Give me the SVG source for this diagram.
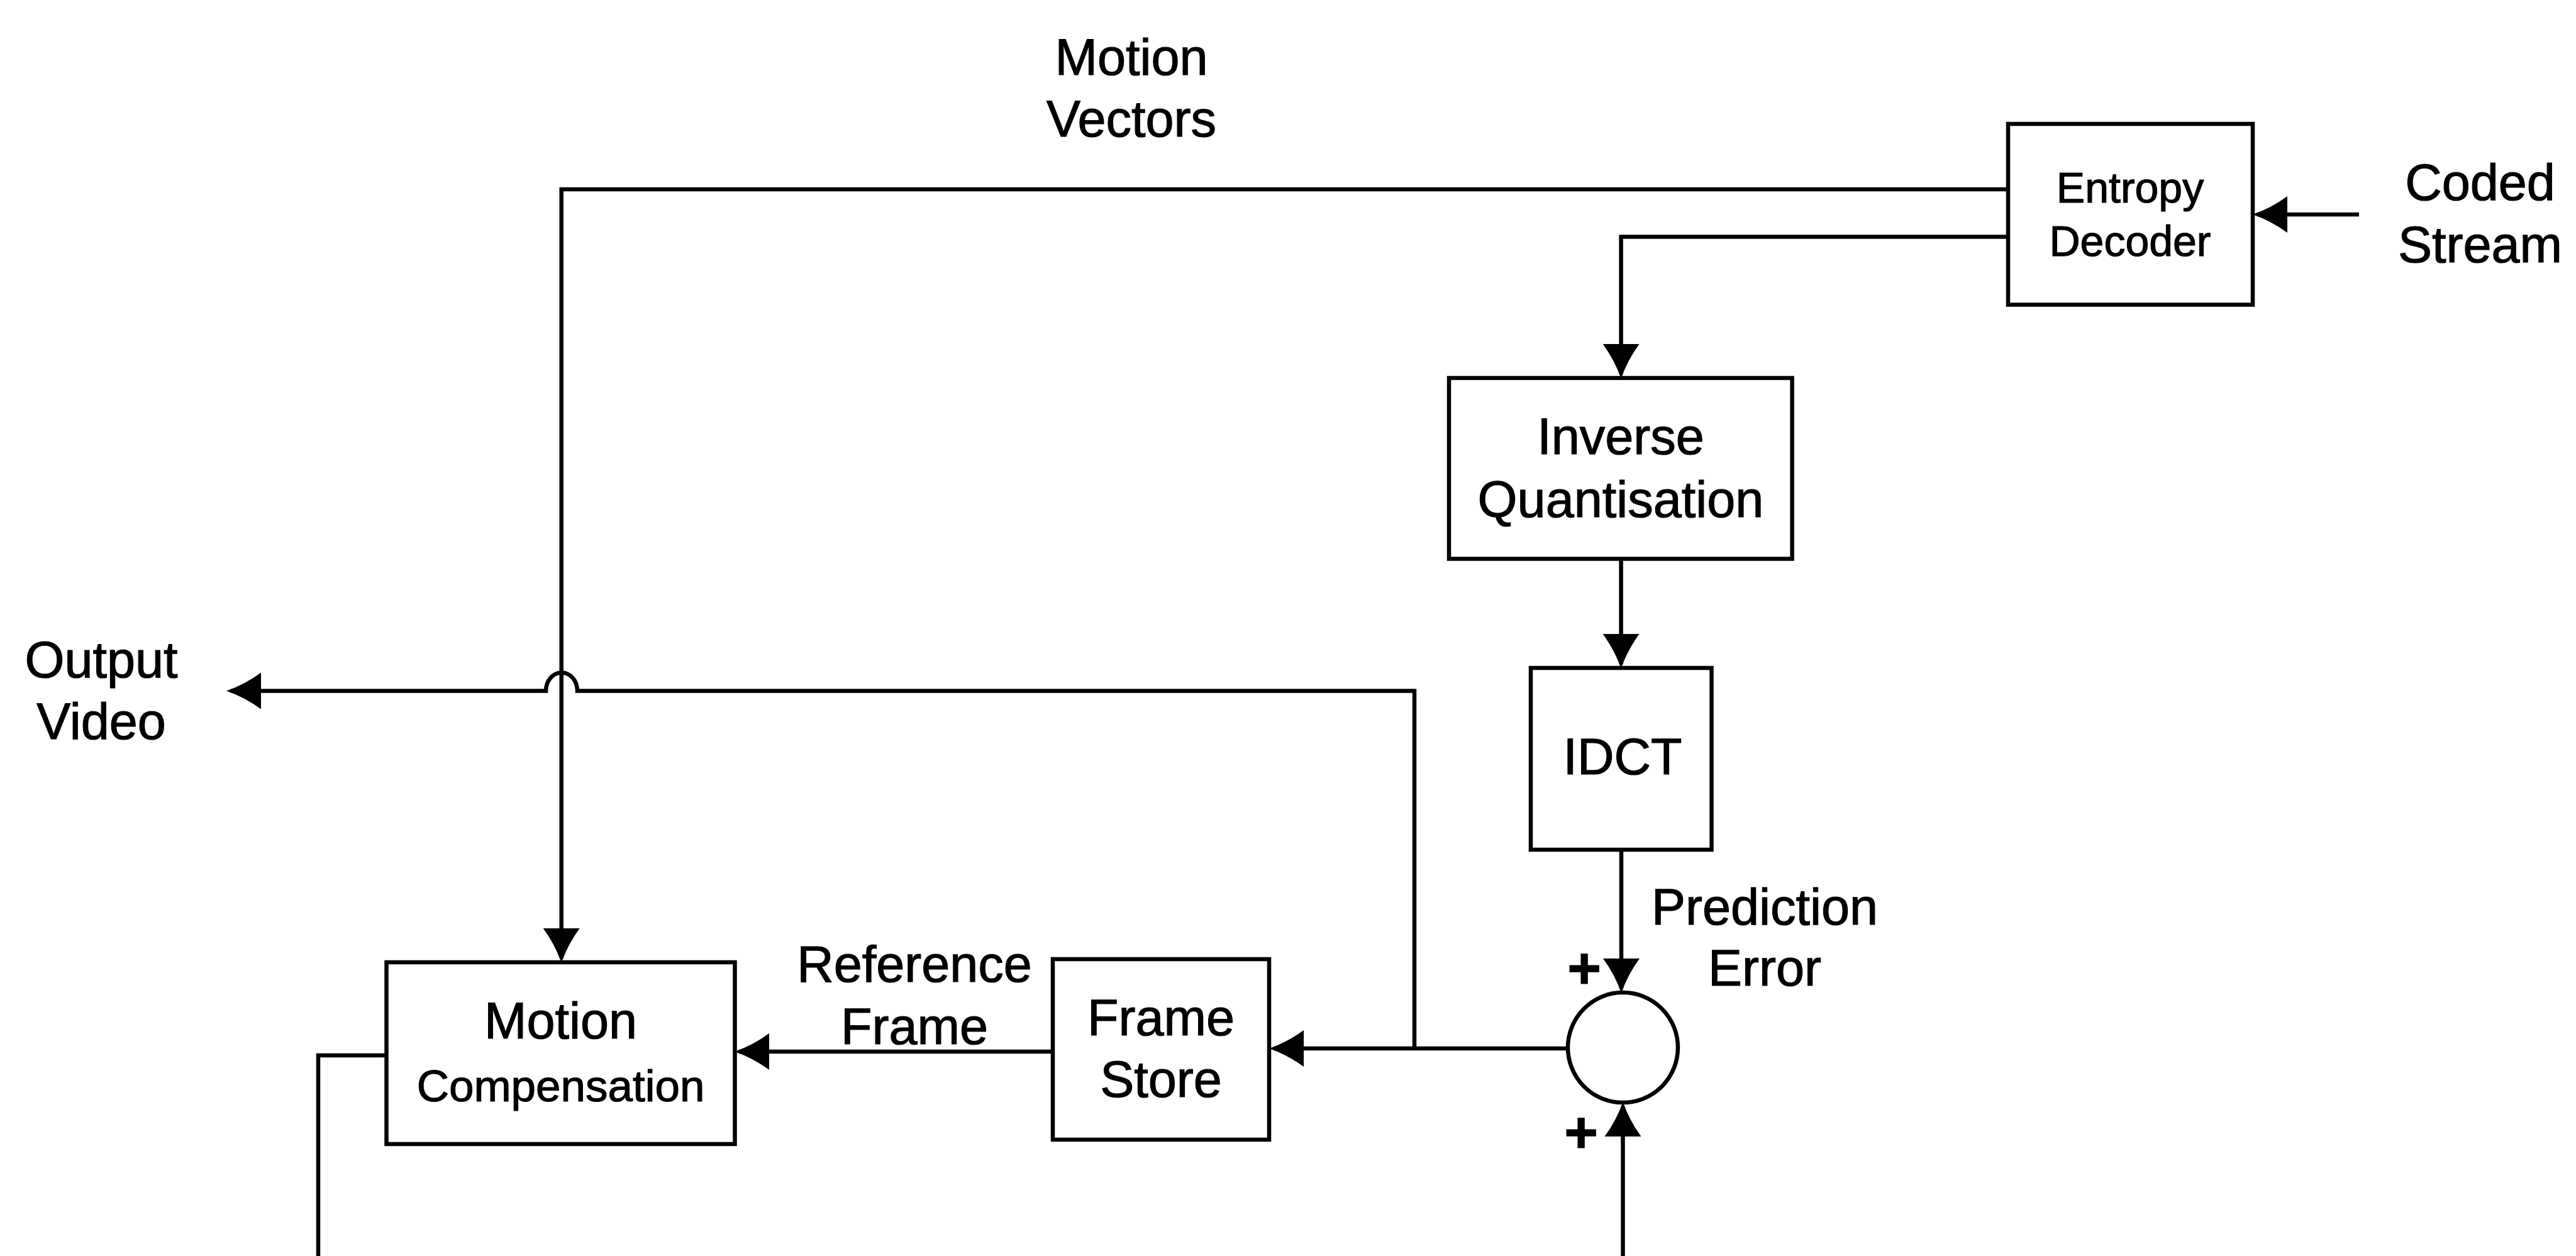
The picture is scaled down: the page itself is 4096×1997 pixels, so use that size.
<svg xmlns="http://www.w3.org/2000/svg" width="4096" height="1997" viewBox="0 0 4096 1997">
  <style>
    .box { fill: #ffffff; stroke: #000000; stroke-width: 6.5; }
    .wire { fill: none; stroke: #000000; stroke-width: 6.5; }
    .arrow { marker-end: url(#head); }
    text { font-family: "Liberation Sans", Arial, sans-serif; fill: #000000; stroke: #000000; stroke-width: 1.2; text-anchor: middle; }
    .lbl { font-size: 81px; }
    .small { font-size: 68px; }
    .sign { font-size: 92px; font-weight: bold; }
  </style>
  <defs>
    <marker id="head" markerUnits="userSpaceOnUse" markerWidth="62" markerHeight="64" viewBox="0 0 62 64" refX="48" refY="32" orient="auto">
      <path d="M0,3 Q26,22 55,32 Q26,42 0,61 Z" fill="#000000"/>
    </marker>
  </defs>

  <rect width="4096" height="1997" fill="#ffffff"/>

  <!-- connectors -->
  <g id="connectors">
    <!-- coded stream into entropy decoder -->
    <path class="wire arrow" d="M3751,341 H3589"/>
    <!-- motion vectors to motion compensation -->
    <path class="wire arrow" d="M3193,301 H892.7 V1524"/>
    <!-- coefficients to inverse quantisation -->
    <path class="wire arrow" d="M3193,376.4 H2577.6 V595"/>
    <!-- inverse quantisation to IDCT -->
    <path class="wire arrow" d="M2577.6,888.5 V1056"/>
    <!-- IDCT to adder -->
    <path class="wire arrow" d="M2578,1351 V1572"/>
    <!-- prediction into adder from below -->
    <path class="wire arrow" d="M2580.5,1997 V1759"/>
    <!-- adder output to frame store -->
    <path class="wire arrow" d="M2493,1667 H2025"/>
    <!-- reconstructed frame to output video, hopping over the motion vector line -->
    <path class="wire arrow" d="M2249,1667 V1098.4 H918 A25,29 0 0 0 868,1098.4 H367"/>
    <!-- frame store to motion compensation -->
    <path class="wire arrow" d="M1674,1672 H1175"/>
    <!-- motion compensation output to prediction path -->
    <path class="wire" d="M614.5,1678 H506 V1997"/>
  </g>

  <!-- nodes -->
  <g id="entropy-decoder">
    <rect class="box" x="3193" y="197" width="389" height="287.5"/>
    <text class="small" x="3387" y="322">Entropy</text>
    <text class="small" x="3387" y="406.5">Decoder</text>
  </g>

  <g id="inverse-quantisation">
    <rect class="box" x="2304" y="601" width="545.6" height="287.5"/>
    <text class="lbl" x="2577" y="722">Inverse</text>
    <text class="lbl" x="2577" y="821.7">Quantisation</text>
  </g>

  <g id="idct">
    <rect class="box" x="2434" y="1062" width="287.5" height="289"/>
    <text class="lbl" x="2580" y="1231">IDCT</text>
  </g>

  <g id="adder">
    <circle class="box" cx="2580.5" cy="1665.6" r="87.5"/>
    <text class="sign" x="2519" y="1571">+</text>
    <text class="sign" x="2514" y="1832">+</text>
  </g>

  <g id="frame-store">
    <rect class="box" x="1674" y="1525" width="344" height="287"/>
    <text class="lbl" x="1846" y="1645.5">Frame</text>
    <text class="lbl" x="1846" y="1743.7">Store</text>
  </g>

  <g id="motion-compensation">
    <rect class="box" x="614.5" y="1530" width="554" height="289"/>
    <text class="lbl" x="891.6" y="1650.5">Motion</text>
    <text style="font-size:71px" x="891.6" y="1751">Compensation</text>
  </g>

  <!-- free labels -->
  <g id="labels">
    <text class="lbl" x="1799" y="119">Motion</text>
    <text class="lbl" x="1799" y="216.5">Vectors</text>
    <text class="lbl" x="3943.5" y="317.6">Coded</text>
    <text class="lbl" x="3943.5" y="416.6">Stream</text>
    <text class="lbl" x="2806" y="1470">Prediction</text>
    <text class="lbl" x="2806" y="1566.6">Error</text>
    <text class="lbl" x="1454" y="1561">Reference</text>
    <text class="lbl" x="1454" y="1660">Frame</text>
    <text class="lbl" x="161" y="1077">Output</text>
    <text class="lbl" x="161" y="1174.5">Video</text>
  </g>
</svg>
